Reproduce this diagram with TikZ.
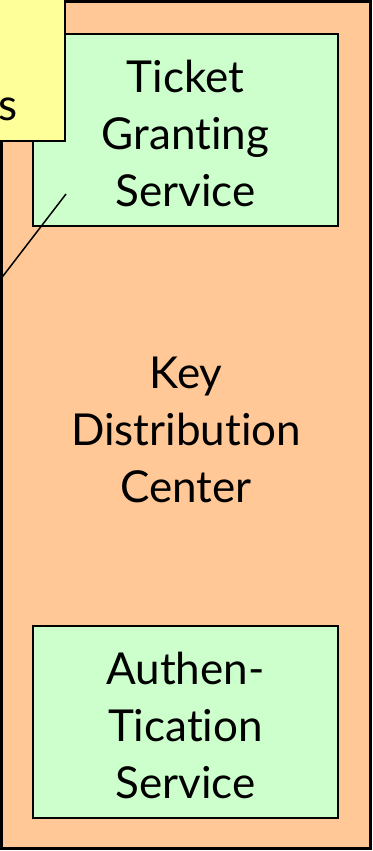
\documentclass[tikz,border=0pt]{standalone}
\usepackage{fontspec}
\setmainfont{Lato}[Ligatures=NoCommon]
\definecolor{kdcfill}{HTML}{FFC896}
\definecolor{svcfill}{HTML}{CCFFCC}
\definecolor{notefill}{HTML}{FFFF99}
\begin{document}
\begin{tikzpicture}[x=1pt,y=-1pt,
  lbl/.style={align=center,font=\fontsize{44}{57}\selectfont,inner sep=0pt},
  svcbox/.style={draw=black,line width=2pt,fill=svcfill,minimum width=305pt,minimum height=192pt,inner sep=0pt},
]
\useasboundingbox (0,0) rectangle (372,851);
\clip (0,0) rectangle (372,851);
\node[draw=black,line width=3pt,fill=kdcfill,minimum width=369pt,minimum height=847pt,inner sep=0pt] (kdc) at (185.5,425) {};
\node[lbl] (kdctext) at (186,430) {Key\\Distribution\\Center};
\node[svcbox] (tgs) at (185.5,130) {};
\node[lbl] (tgstext) at ([yshift=-3pt]tgs.center) {Ticket\\Granting\\Service};
\node[svcbox] (as) at (185.5,722) {};
\node[lbl] (astext) at ([yshift=-3pt]as.center) {Authen-\\Tication\\Service};
\node[draw=black,line width=2pt,fill=notefill,minimum width=90pt,minimum height=160pt,inner sep=0pt] (note) at (20,61) {};
\node[anchor=base east,font=\fontsize{44}{57}\selectfont,inner sep=0pt] (notetext) at (18,120) {s};
\coordinate (p1) at (66,194);
\coordinate (p2) at (-20,306);
\draw[line width=1.5pt] (p1) -- (p2);
\end{tikzpicture}
\end{document}
